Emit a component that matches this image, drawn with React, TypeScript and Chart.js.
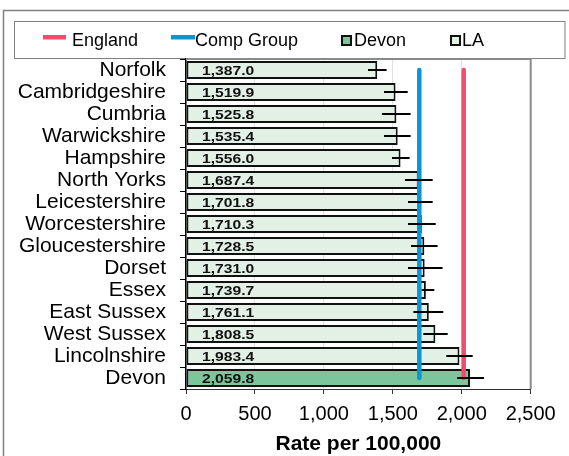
import React, { useEffect, useRef } from 'react';
import { Chart, registerables } from 'chart.js';

Chart.register(...registerables);

const categories = [
  'Norfolk', 'Cambridgeshire', 'Cumbria', 'Warwickshire', 'Hampshire',
  'North Yorks', 'Leicestershire', 'Worcestershire', 'Gloucestershire', 'Dorset',
  'Essex', 'East Sussex', 'West Sussex', 'Lincolnshire', 'Devon',
];
const rates = [
  1387.0, 1519.9, 1525.8, 1535.4, 1556.0,
  1687.4, 1701.8, 1710.3, 1728.5, 1731.0,
  1739.7, 1761.1, 1808.5, 1983.4, 2059.8,
];
const lowerCI = [
  1320, 1436, 1421, 1436, 1494,
  1588, 1610, 1610, 1632, 1610,
  1709, 1649, 1721, 1888, 1967,
];
const upperCI = [
  1455, 1608, 1629, 1629, 1622,
  1789, 1789, 1811, 1825, 1861,
  1801, 1866, 1898, 2079, 2161,
];
const englandRate = 2014;
const compGroupRate = 1692;
const highlightArea = 'Devon';
const xTicks = [0, 500, 1000, 1500, 2000, 2500];
const xTitle = 'Rate per 100,000';
const legendLabels = ['England', 'Comp Group', 'Devon', 'LA'];

const RED = '#f24b6c';
const BLUE = '#0b95d2';
const LA_FILL = '#e3f0e6';
const DEVON_FILL = '#7cc69b';
const FONT = "'Liberation Sans', Arial, sans-serif";

export default function App() {
  const ref = useRef<HTMLCanvasElement>(null);

  useEffect(() => {
    const canvas = ref.current;
    if (!canvas) return;

    const decor = {
      id: 'decor',
      beforeDraw(chart: any) {
        const c = chart.ctx;
        c.save();
        c.fillStyle = '#ffffff';
        c.fillRect(0, 0, chart.width, chart.height);
        // outer frame
        c.strokeStyle = '#808080';
        c.lineWidth = 1.5;
        c.strokeRect(3.5, 10.5, chart.width + 20, chart.height + 20);
        // legend box
        c.lineWidth = 1;
        c.strokeRect(14.5, 21.5, 550.5, 37);
        // legend items
        c.font = `18px ${FONT}`;
        c.fillStyle = '#000';
        c.textBaseline = 'alphabetic';
        c.textAlign = 'left';
        const baseY = 45.5;
        c.fillStyle = RED;
        c.fillRect(43, 35, 23, 4.5);
        c.fillStyle = '#000';
        c.fillText(legendLabels[0], 72, baseY);
        c.fillStyle = BLUE;
        c.fillRect(171, 35, 24, 4.5);
        c.fillStyle = '#000';
        c.fillText(legendLabels[1], 195, baseY);
        c.fillStyle = DEVON_FILL;
        c.fillRect(341, 35, 11, 11);
        c.strokeStyle = '#111';
        c.lineWidth = 2;
        c.strokeRect(342, 36, 9, 9);
        c.fillStyle = '#000';
        c.fillText(legendLabels[2], 354, baseY);
        c.fillStyle = LA_FILL;
        c.fillRect(450, 35, 11, 11);
        c.strokeRect(451, 36, 9, 9);
        c.fillStyle = '#000';
        c.fillText(legendLabels[3], 462, baseY);
        c.restore();
      },
      afterDatasetsDraw(chart: any) {
        const c = chart.ctx;
        const xs = chart.scales.x;
        const area = chart.chartArea;
        const meta = chart.getDatasetMeta(2);
        c.save();
        c.strokeStyle = '#8a8a8a';
        c.lineWidth = 2;
        c.beginPath();
        c.moveTo(area.left, area.top);
        c.lineTo(area.right, area.top);
        c.lineTo(area.right, area.bottom);
        c.stroke();
        c.strokeStyle = '#000';
        c.lineWidth = 2;
        meta.data.forEach((bar: any, i: number) => {
          const y = Math.round(bar.y);
          c.beginPath();
          c.moveTo(xs.getPixelForValue(lowerCI[i]), y);
          c.lineTo(xs.getPixelForValue(upperCI[i]), y);
          c.stroke();
        });
        c.fillStyle = '#111';
        c.font = `bold 13.5px ${FONT}`;
        c.textAlign = 'left';
        c.textBaseline = 'alphabetic';
        meta.data.forEach((bar: any, i: number) => {
          const txt = rates[i].toLocaleString('en-US', { minimumFractionDigits: 1, maximumFractionDigits: 1 });
          const x0 = xs.getPixelForValue(0) + 16;
          c.save();
          c.translate(x0, bar.y + 5);
          c.scale(1.16, 1);
          c.fillText(txt, 0, 0);
          c.restore();
        });
        c.restore();
      },
    };

    const last = categories[categories.length - 1];
    const chart = new Chart(canvas, {
      type: 'bar',
      data: {
        labels: categories,
        datasets: [
          {
            type: 'line',
            label: 'England',
            data: [{ x: englandRate, y: categories[0] }, { x: englandRate, y: last }] as any,
            borderColor: RED,
            backgroundColor: RED,
            borderWidth: 4.5,
            borderCapStyle: 'round',
            pointRadius: 0,
            order: 0,
          } as any,
          {
            type: 'line',
            label: 'Comp Group',
            data: [{ x: compGroupRate, y: categories[0] }, { x: compGroupRate, y: last }] as any,
            borderColor: BLUE,
            backgroundColor: BLUE,
            borderWidth: 4.5,
            borderCapStyle: 'round',
            pointRadius: 0,
            order: 1,
          } as any,
          {
            type: 'bar',
            label: 'LA',
            data: rates,
            backgroundColor: categories.map((c) => (c === highlightArea ? DEVON_FILL : LA_FILL)),
            borderColor: '#111',
            borderWidth: 2,
            borderSkipped: false,
            categoryPercentage: 1,
            barPercentage: 0.82,
            order: 2,
          } as any,
        ],
      },
      options: {
        indexAxis: 'y',
        responsive: false,
        animation: false,
        maintainAspectRatio: false,
        layout: { padding: { top: 59, right: 38.3, left: 0, bottom: 0 } },
        plugins: {
          legend: { display: false },
          tooltip: { enabled: false },
          title: { display: false },
        },
        scales: {
          x: {
            type: 'linear',
            min: 0,
            max: 2500,
            afterBuildTicks: (s: any) => { s.ticks = xTicks.map((v) => ({ value: v })); },
            afterFit: (s: any) => { s.height = 67; },
            ticks: {
              color: '#000',
              font: { size: 20, family: FONT },
              padding: 8,
              maxRotation: 0,
              callback: (v: any) => Number(v).toLocaleString('en-US'),
            },
            grid: { color: '#e2e2e2', tickColor: '#333', tickLength: 5, drawOnChartArea: true },
            border: { color: '#333', width: 1 },
            title: {
              display: true,
              text: xTitle,
              color: '#000',
              font: { size: 21, weight: 'bold', family: FONT },
              padding: { top: 0, bottom: -1 },
            },
          },
          y: {
            type: 'category',
            offset: true,
            afterFit: (s: any) => { s.width = 186; },
            ticks: {
              color: '#000',
              font: { size: 21, family: FONT },
              padding: 14,
              autoSkip: false,
            },
            grid: { drawOnChartArea: false, tickColor: '#000', tickLength: 6, offset: true },
            border: { color: '#000', width: 1.5 },
          },
        },
      } as any,
      plugins: [decor],
    });

    return () => chart.destroy();
  }, []);

  return (
    <div style={{ position: 'fixed', left: 0, top: 0, width: 569, height: 456, background: '#fff' }}>
      <canvas ref={ref} width={569} height={456} style={{ display: 'block', width: 569, height: 456 }} />
    </div>
  );
}
